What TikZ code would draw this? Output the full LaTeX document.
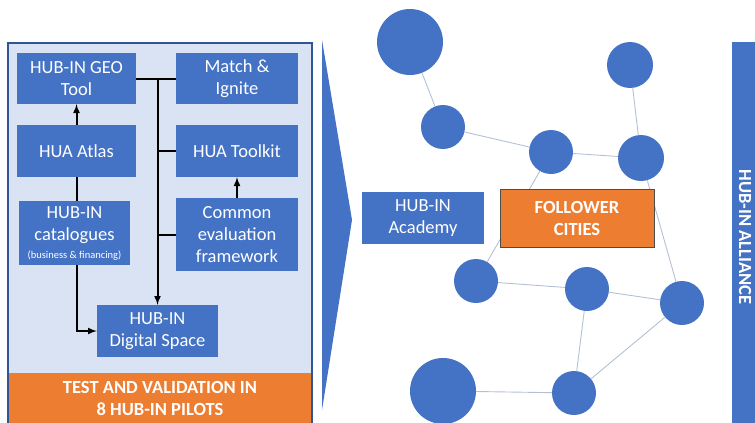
\documentclass[tikz,border=0pt]{standalone}
\usepackage{fontspec}
\setmainfont{Carlito}
\usetikzlibrary{positioning}

\definecolor{hubblue}{HTML}{4472C4}
\definecolor{hubdark}{HTML}{2F5597}
\definecolor{hublight}{HTML}{DAE3F3}
\definecolor{huborange}{HTML}{ED7D31}
\definecolor{hublink}{HTML}{B4C0D4}

\tikzset{
	blk/.style={fill=hubblue, text=white, align=center, inner sep=1pt,
		font=\fontsize{18.5}{22}\selectfont},
	city/.style={circle, fill=hubblue, inner sep=0pt},
	link/.style={draw=hublink, line width=0.9pt},
	flow/.style={draw=black, line width=2pt},
}

\begin{document}
\begin{tikzpicture}[x=1pt, y=-1pt, >=latex]
	\useasboundingbox (0,0) rectangle (755,423);

	% left panel with the pilots band
	\fill[hublight] (8,43) rectangle (312,430);
	\fill[huborange] (8,373) rectangle (312,430);
	\draw[hubdark, line width=1.2pt] (8,430) -- (8,43) -- (312,43) -- (312,430);
	\draw node[text=white, align=center, font=\fontsize{18.5}{22}\selectfont\bfseries]
		(pilots) at (160,398) {TEST AND VALIDATION IN\\8 HUB-IN PILOTS};

	\draw
	node[blk, minimum width=119, minimum height=51] (geo) at (76.5,78.5) {HUB-IN GEO\\Tool}
	node[blk, minimum width=122, minimum height=51] (match) at (237,78.5) {Match \&\\Ignite}
	node[blk, minimum width=119, minimum height=52] (atlas) at (76.5,151) {HUA Atlas}
	node[blk, minimum width=122, minimum height=52] (toolkit) at (237,151) {HUA Toolkit}
	node[blk, minimum width=111, minimum height=64] (catal) at (74.5,233)
		{HUB-IN\\catalogues\\[-4pt]{\fontsize{10.5}{11}\selectfont(business \& financing)}}
	node[blk, minimum width=122, minimum height=73] (common) at (237,234.5)
		{Common\\evaluation\\framework}
	node[blk, minimum width=121, minimum height=52] (digital) at (157.5,331) {HUB-IN\\Digital Space};

	\draw[flow, ->] (atlas.north) -- (geo.south);
	\draw[flow] (atlas.south) -- (atlas.south |- catal.north);
	\draw[flow, ->] (atlas.south |- catal.south) |- (digital.west);
	\draw[flow] (geo.east) -- (match.west);
	\draw[flow, ->] (digital.north |- geo.east) -- (digital.north);
	\draw[flow] (digital.north |- toolkit.west) -- (toolkit.west);
	\draw[flow] (digital.north |- common.west) -- (common.west);
	\draw[flow, ->] (common.north) -- (toolkit.south);

	% chevron
	\fill[hubblue] (322,40) -- (352,220) -- (322,410) -- cycle;

	% network of cities
	\draw
	node[city, minimum size=66] (c1) at (410,42) {}
	node[city, minimum size=44] (c2) at (443,127) {}
	node[city, minimum size=44] (c3) at (551,152) {}
	node[city, minimum size=46] (c4) at (630,65) {}
	node[city, minimum size=46] (c5) at (641,158) {}
	node[city, minimum size=44] (c6) at (476,281) {}
	node[city, minimum size=44] (c7) at (587,289) {}
	node[city, minimum size=44] (c8) at (682,303) {}
	node[city, minimum size=66] (c9) at (443,391) {}
	node[city, minimum size=44] (c10) at (574,393) {};

	\draw[link] (c1) -- (c2);
	\draw[link] (c2) -- (c3);
	\draw[link] (c3) -- (c5);
	\draw[link] (c4) -- (c5);
	\draw[link] (c3) -- (c6);
	\draw[link] (c5) -- (c8);
	\draw[link] (c6) -- (c7);
	\draw[link] (c7) -- (c8);
	\draw[link] (c7) -- (c10);
	\draw[link] (c9) -- (c10);
	\draw[link] (c10) -- (c8);

	\draw
	node[blk, minimum width=122, minimum height=52] (academy) at (423,218) {HUB-IN\\Academy}
	node[blk, fill=huborange, draw=black!70, line width=0.6pt, font=\fontsize{18.5}{22}\selectfont\bfseries,
		minimum width=154, minimum height=58] (follower) at (577,218) {FOLLOWER\\CITIES};

	% alliance bar
	\draw node[fill=hubblue, text=white, rotate=-90, minimum width=390, minimum height=26,
		font=\fontsize{18.5}{22}\selectfont\bfseries] (alliance) at (745,237) {HUB-IN ALLIANCE};
\end{tikzpicture}
\end{document}
